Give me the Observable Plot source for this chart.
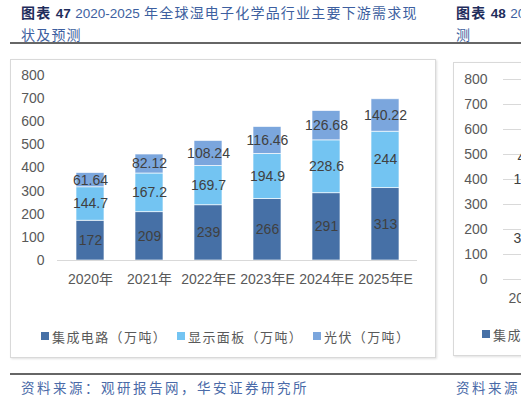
<!DOCTYPE html>
<html><head><meta charset="utf-8">
<script src="https://cdn.jsdelivr.net/npm/d3@7"></script>
<script src="https://cdn.jsdelivr.net/npm/@observablehq/plot@0.6"></script>
<style>
html,body{margin:0;padding:0;background:#fff;overflow:hidden;}
body{width:521px;height:396px;position:relative;font-family:"Liberation Sans",Arial,"Noto Sans CJK SC",sans-serif;}
.abs{position:absolute;}
.title{font-family:"Noto Sans CJK SC";font-size:14px;line-height:20px;letter-spacing:1.2px;color:#3d5fa0;white-space:nowrap;}
.title b{color:#1f2d5c;}
.num{font-family:"Liberation Sans",Arial;font-size:13.5px;letter-spacing:0;}
.rule{background:#666;height:2px;}
.box{border:1px solid #d9d9d9;box-shadow:1px 1px 2px rgba(0,0,0,0.12);box-sizing:border-box;}
.legend{font-family:"Noto Sans CJK SC";font-size:13px;color:#595959;letter-spacing:1.4px;white-space:nowrap;display:flex;align-items:center;height:16px;}
.sw{display:inline-block;width:7.5px;height:7.5px;margin-right:3.5px;}
.src{font-family:"Noto Sans CJK SC";font-size:13.5px;line-height:16px;color:#4a6aa8;letter-spacing:2.5px;white-space:nowrap;}
svg{max-width:none !important;}
</style></head><body>
<div class="abs title" style="left:21px;top:2px;"><b>图表 <span class="num" style="color:#1f2d5c">47</span></b> <span class="num">2020-2025</span> 年全球湿电子化学品行业主要下游需求现<br>状及预测</div>
<div class="abs title" style="left:456px;top:2px;"><b>图表 <span class="num" style="color:#1f2d5c">48</span></b> <span class="num">2020-2025</span> 年中国<br>测</div>
<div class="abs rule" style="left:10px;top:42px;width:511px;"></div>
<div class="abs box" style="left:10px;top:59px;width:426px;height:299px;"></div>
<div class="abs box" style="left:453px;top:62px;width:200px;height:294px;"></div>
<div id="chart1" class="abs" style="left:10px;top:60px;width:425px;"></div>
<div id="chart2" class="abs" style="left:453px;top:62px;width:430px;"></div>
<div id="legend1"></div>
<div class="abs rule" style="left:10px;top:373px;width:511px;"></div>
<div class="abs src" style="left:21px;top:379px;">资料来源：观研报告网，华安证券研究所</div>
<div class="abs src" style="left:456px;top:379px;">资料来源：</div>
<script>
const categories = ["2020年","2021年","2022年E","2023年E","2024年E","2025年E"];
const seriesNames = ["集成电路（万吨）","显示面板（万吨）","光伏（万吨）"];
const icValues = [172,209,239,266,291,313];
const displayValues = [144.7,167.2,169.7,194.9,228.6,244];
const pvValues = [61.64,82.12,108.24,116.46,126.68,140.22];
const yTicks = [0,100,200,300,400,500,600,700,800];
const colors = ["#4670A6","#73C4F2","#7BA6DD"];
// partially visible neighbouring chart (only the first bar's labels show)
const cnFirstBarValues = [330.5,136.4,40.2];

const fontStack = '"Liberation Sans", Arial, "Noto Sans CJK SC", sans-serif';
const seriesValues = [icValues, displayValues, pvValues];
const rows = categories.flatMap((c,i)=>seriesValues.map((vals,j)=>({category:c, series:seriesNames[j], value:vals[i]})));

const chart1 = Plot.plot({
  width:425, height:240, marginTop:15, marginBottom:40, marginLeft:47, marginRight:18,
  style:{fontFamily:fontStack, fontSize:"14px", color:"#595959", background:"transparent", overflow:"visible"},
  x:{domain:categories, paddingInner:0.533, paddingOuter:0.267, label:null, tickSize:0, tickPadding:14},
  y:{domain:[0,800], ticks:yTicks, label:null, tickSize:0, tickPadding:13},
  color:{domain:seriesNames, range:colors},
  marks:[
    Plot.barY(rows, {x:"category", y:"value", fill:"series", stroke:"white", strokeWidth:0.8, strokeOpacity:0.8}),
    Plot.ruleY([0], {stroke:"#d9d9d9", strokeWidth:1.2}),
    Plot.text(rows, Plot.stackY({x:"category", y:"value", z:"series", text:d=>String(d.value), fill:"#404040", fontSize:14}))
  ]
});
document.getElementById("chart1").appendChild(chart1);

const cnRows = seriesNames.map((s,j)=>({category:categories[0], series:s, value:cnFirstBarValues[j]}));
const chart2 = Plot.plot({
  width:430, height:250, marginTop:17, marginBottom:33, marginLeft:50, marginRight:20,
  style:{fontFamily:fontStack, fontSize:"14px", color:"#595959", background:"transparent", overflow:"visible", maxWidth:"none"},
  x:{domain:categories, paddingInner:0.75, paddingOuter:0.3, label:null, tickSize:0, tickPadding:14},
  y:{domain:[0,800], ticks:yTicks, label:null, tickSize:0, tickPadding:16},
  color:{domain:seriesNames, range:colors},
  marks:[
    Plot.ruleY(yTicks, {stroke:"#d9d9d9"}),
    Plot.barY(cnRows, {x:"category", y:"value", fill:"series", stroke:"white", strokeWidth:0.8}),
    Plot.text(cnRows, Plot.stackY({x:"category", y:"value", z:"series", text:d=>String(d.value), fill:"#404040", fontSize:14}))
  ]
});
document.getElementById("chart2").appendChild(chart2);

const legendItems = [
  {name:seriesNames[0], color:colors[0], left:41},
  {name:seriesNames[1], color:colors[1], left:177},
  {name:seriesNames[2], color:colors[2], left:313},
  {name:"集成电路（万吨）", color:colors[0], left:482}
];
const lg = document.getElementById("legend1");
legendItems.forEach((it,i)=>{
  const d = document.createElement("div");
  d.className = "abs legend";
  d.style.left = it.left + "px";
  d.style.top = (i===3 ? 326 : 328) + "px";
  d.innerHTML = `<span class="sw" style="background:${it.color}"></span>${it.name}`;
  lg.appendChild(d);
});
</script>
</body></html>
